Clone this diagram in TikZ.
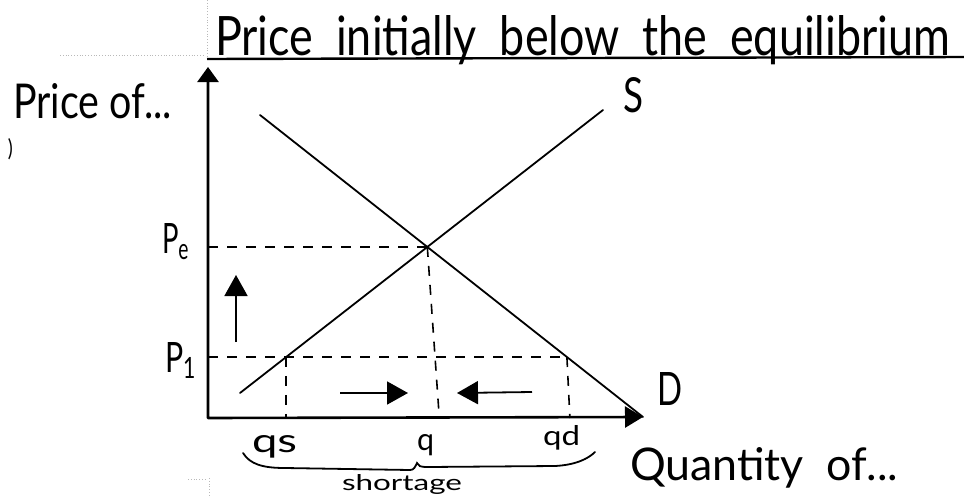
\documentclass[tikz,border=0pt]{standalone}
\usepackage{fontspec}
\setmainfont{Lato}
\usepackage{graphicx}
\usetikzlibrary{arrows.meta,calc}
\newcommand{\hwtext}[3]{\resizebox{#1pt}{#2pt}{#3}}
\begin{document}
\begin{tikzpicture}[x=1pt,y=-1pt,
  lbl/.style={inner sep=0pt,outer sep=0pt,anchor=base west},
  axisline/.style={line width=2.6pt,line join=round,
     {Triangle[length=15pt,width=21pt]}-{Triangle[length=18pt,width=21pt]}},
  curveline/.style={line width=1.8pt,line cap=round},
  guide/.style={line width=1.6pt,dash pattern=on 10pt off 9pt},
  movearrow/.style={line width=1.8pt,-{Triangle[length=21pt,width=23pt]}},
  scanmark/.style={gray!55,line width=0.8pt,dotted},
  uline/.style={line width=2.4pt}]
\useasboundingbox (0,0) rectangle (964,498);

% scan marks
\draw[scanmark] (207,0) -- (207,60);
\draw[scanmark] (60,55) -- (204,55);
\draw[scanmark] (209,478) -- (209,498);
\draw[scanmark] (188,479) -- (206,479);
\node[lbl] (mark) at (8,156) {\hwtext{5}{18}{)}};

% title
\node[lbl] (title) at (215,55) {\hwtext{735}{40}{Price\ \ initially\ \ below\ \ the\ \ equilibrium}};
\coordinate (ulA) at (207,59);
\coordinate (ulB) at (964,57);
\draw[uline] (ulA) -- (ulB);

% axes
\coordinate (O) at (208,418);
\coordinate (Ytip) at (208,67);
\coordinate (Xtip) at (643,417);
\draw[axisline] (Ytip) -- (O) -- (Xtip);

% demand and supply
\coordinate (Dtop) at (260,115);
\coordinate (Slow) at (240,393);
\coordinate (Shigh) at (603,110);
\draw[curveline] (Dtop) -- (Xtip);
\draw[curveline] (Slow) -- (Shigh);

\coordinate (E) at (intersection of Dtop--Xtip and Slow--Shigh);
\coordinate (PeA) at (O |- E);
\coordinate (P1A) at (208,357);
\coordinate (P1far) at (800,357);
\coordinate (A) at (intersection of Slow--Shigh and P1A--P1far);
\coordinate (B) at (intersection of Dtop--Xtip and P1A--P1far);
\coordinate (qsF) at (A |- O);
\coordinate (qF) at ($(E |- O)+(12,0)$);
\coordinate (qdF) at ($(B |- O)+(3,0)$);

\draw[guide] (PeA) -- (E);
\draw[guide] (E) -- (qF);
\draw[guide] (P1A) -- (B);
\draw[guide] (A) -- (qsF);
\draw[guide] (B) -- (qdF);

% movement arrows
\coordinate (U1) at (236,342);
\coordinate (U2) at (236,275);
\coordinate (R1) at (340,393);
\coordinate (R2) at (408,393);
\coordinate (L1) at (532,392);
\coordinate (L2) at (457,393);
\draw[movearrow] (U1) -- (U2);
\draw[movearrow] (R1) -- (R2);
\draw[movearrow] (L1) -- (L2);

% labels
\node[lbl] (priceof) at (13,118) {\hwtext{159}{35}{Price of...}};
\node[lbl] (Pe) at (162,253) {\hwtext{28}{30}{P\textsubscript{e}}};
\node[lbl] (P1) at (165,372) {\hwtext{32}{30}{P\textsubscript{1}}};
\node[lbl] (S) at (623,112) {\hwtext{20}{35}{S}};
\node[lbl] (D) at (657,405) {\hwtext{25}{33}{D}};
\node[lbl] (qs) at (252,452) {\hwtext{45}{17}{qs}};
\node[lbl] (q) at (417,450) {\hwtext{17}{16}{q}};
\node[lbl] (qd) at (543,445) {\hwtext{37}{20}{qd}};
\node[lbl] (shortage) at (342,490) {\hwtext{120}{16}{shortage}};
\node[lbl] (quantity) at (630,480) {\hwtext{268}{33}{Quantity\ \ of...}};

% brace
\coordinate (BL) at (243,453);
\coordinate (BM) at (417,463);
\coordinate (BR) at (595,452);
\draw[curveline] (BL) .. controls (250,464) and (262,468) .. (285,468)
   -- (410,470) .. controls (414,470) and (415,467) .. (BM)
   .. controls (418,466) and (420,467) .. (428,467)
   -- (555,466) .. controls (575,465) and (588,459) .. (BR);
\end{tikzpicture}
\end{document}
